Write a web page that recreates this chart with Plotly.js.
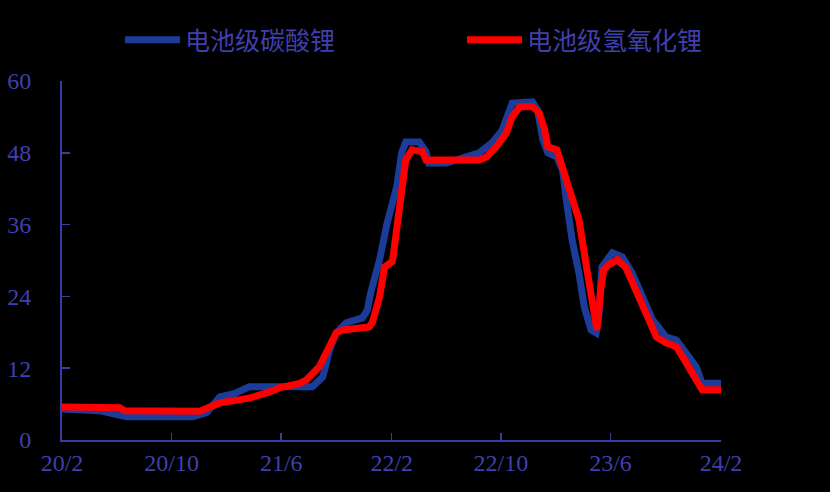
<!DOCTYPE html>
<html>
<head>
<meta charset="utf-8">
<script src="https://cdn.plot.ly/plotly-3.0.1.min.js"></script>
<style>
html,body{margin:0;padding:0;background:#000;}
#chart{width:830px;height:492px;}
</style>
</head>
<body>
<div id="chart"></div>
<script>
// 电池级碳酸锂 (万元/吨)
const carbonateDates = ["2020-02-01","2020-03-10","2020-04-24","2020-06-23","2020-09-05","2020-11-17","2020-12-18","2021-01-16","2021-02-18","2021-03-22","2021-05-05","2021-07-10","2021-08-09","2021-09-01","2021-09-16","2021-10-01","2021-10-23","2021-11-28","2021-12-09","2021-12-16","2022-01-05","2022-01-22","2022-02-12","2022-02-23","2022-03-04","2022-04-03","2022-04-18","2022-04-24","2022-06-02","2022-08-14","2022-09-12","2022-10-04","2022-10-26","2022-12-10","2022-12-21","2023-01-02","2023-01-13","2023-02-02","2023-02-15","2023-02-24","2023-03-08","2023-03-23","2023-04-04","2023-04-19","2023-04-30","2023-05-06","2023-05-13","2023-06-05","2023-06-27","2023-07-19","2023-08-10","2023-09-02","2023-10-03","2023-10-25","2023-11-16","2023-12-08","2023-12-21","2024-02-01"];
const carbonateValues = [5.2,5.1,4.9,3.9,3.8,3.9,4.6,7.2,7.8,8.9,8.9,8.7,8.9,10.5,15.0,17.9,19.6,20.4,21.7,24.5,30.1,36.3,42.3,48.0,49.8,49.8,48.2,46.3,46.3,48.0,49.7,51.8,56.3,56.5,55.2,50.2,48.0,47.3,45.0,39.6,33.4,27.9,22.2,18.4,17.9,20.6,28.9,31.3,30.6,27.9,23.9,20.1,17.2,16.7,14.5,12.2,9.5,9.5];

// 电池级氢氧化锂 (万元/吨)
const hydroxideDates = ["2020-02-01","2020-04-24","2020-06-08","2020-06-19","2020-09-05","2020-12-02","2021-01-16","2021-03-22","2021-05-05","2021-05-27","2021-07-10","2021-07-26","2021-08-24","2021-09-16","2021-10-01","2021-10-15","2021-11-22","2021-12-13","2021-12-20","2022-01-05","2022-01-16","2022-02-02","2022-02-04","2022-02-19","2022-03-04","2022-03-18","2022-04-10","2022-04-18","2022-08-14","2022-08-30","2022-09-21","2022-10-13","2022-10-26","2022-11-12","2022-12-10","2022-12-25","2023-01-06","2023-01-13","2023-02-02","2023-02-19","2023-03-23","2023-04-10","2023-04-25","2023-05-02","2023-05-11","2023-05-17","2023-05-28","2023-06-16","2023-07-05","2023-07-27","2023-08-19","2023-09-11","2023-10-03","2023-10-25","2023-11-16","2023-12-08","2023-12-21","2024-02-01"];
const hydroxideValues = [5.5,5.5,5.4,4.9,4.9,4.8,6.2,7.0,8.0,8.7,9.4,10.0,12.2,15.8,17.9,18.4,18.7,18.9,19.6,23.9,28.9,29.8,30.6,39.6,46.8,48.5,48.2,46.8,46.8,47.3,49.0,51.3,54.0,55.7,55.7,54.7,51.8,49.0,48.5,44.5,36.8,28.4,20.6,18.4,25.6,28.4,29.3,30.1,28.8,25.1,20.6,17.2,16.2,15.6,12.9,10.0,8.4,8.4];

const xTickVals = ["2020-02-01","2020-10-01","2021-06-01","2022-02-01","2022-10-01","2023-06-01","2024-02-01"];
const xTickText = ["20/2","20/10","21/6","22/2","22/10","23/6","24/2"];
const yTickVals = [0,12,24,36,48,60];

const axisColor = "#3b3ba3";
const textColor = "#3f3fae";

const traces = [
  {x: carbonateDates, y: carbonateValues, name: "电池级碳酸锂", type: "scatter", mode: "lines",
   line: {color: "#1c3c9a", width: 7}, legend: "legend"},
  {x: hydroxideDates, y: hydroxideValues, name: "电池级氢氧化锂", type: "scatter", mode: "lines",
   line: {color: "#ff0000", width: 7}, legend: "legend2"}
];

const legendBase = {
  orientation: "h", xref: "container", yref: "container",
  xanchor: "left", y: 1 - 40 / 492, yanchor: "middle",
  font: {family: "Noto Sans CJK SC", size: 25, color: textColor},
  itemwidth: 55, bgcolor: "rgba(0,0,0,0)"
};

const layout = {
  width: 830, height: 492,
  paper_bgcolor: "#000", plot_bgcolor: "#000",
  margin: {l: 62, r: 109, t: 81, b: 52},
  showlegend: true,
  legend: Object.assign({}, legendBase, {x: 120 / 830}),
  legend2: Object.assign({}, legendBase, {x: 462 / 830}),
  xaxis: {
    type: "date", range: ["2020-02-01", "2024-02-01"],
    tickmode: "array", tickvals: xTickVals, ticktext: xTickText,
    ticks: "inside", ticklen: 7, tickwidth: 1.5, tickcolor: axisColor,
    showline: true, linecolor: axisColor, linewidth: 2,
    showgrid: false, zeroline: false,
    tickfont: {family: "Liberation Serif", size: 24, color: textColor},
    ticklabelstandoff: 0
  },
  yaxis: {
    range: [0, 60], tickmode: "array", tickvals: yTickVals,
    ticks: "inside", ticklen: 8, tickwidth: 1.5, tickcolor: axisColor,
    showline: true, linecolor: axisColor, linewidth: 2,
    showgrid: false, zeroline: false,
    tickfont: {family: "Liberation Serif", size: 24, color: textColor},
    ticklabelstandoff: 24
  }
};

Plotly.newPlot("chart", traces, layout, {displayModeBar: false, staticPlot: true});
</script>
</body>
</html>
